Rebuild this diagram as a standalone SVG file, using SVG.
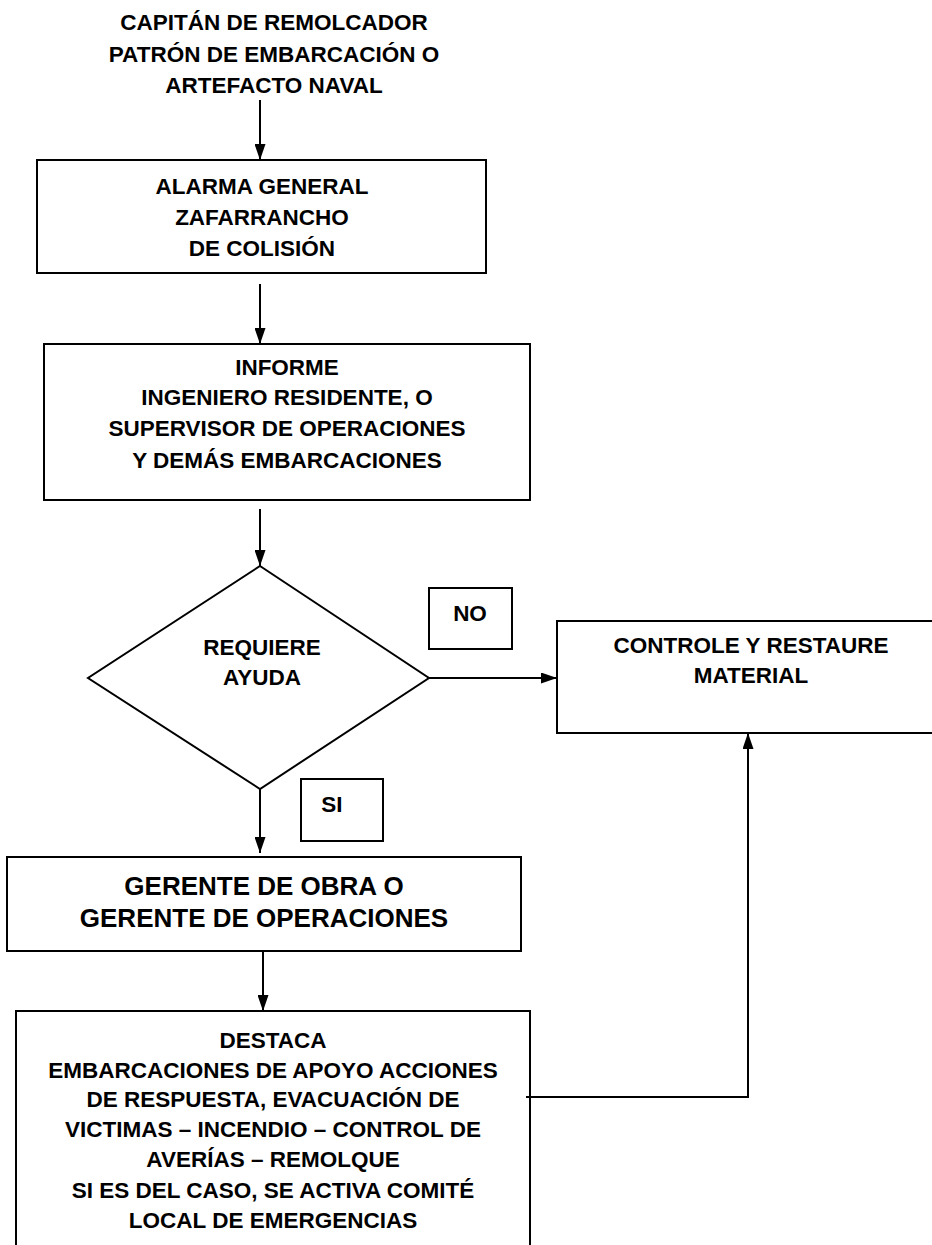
<svg xmlns="http://www.w3.org/2000/svg" width="932" height="1245" viewBox="0 0 932 1245">
<style>
  .t{font-family:"Liberation Sans",Arial,sans-serif;font-weight:bold;font-size:22.5px;fill:#000;text-anchor:middle}
  .big{font-size:26px}
  .box{fill:#fff;stroke:#000;stroke-width:2}
  .edge{fill:none;stroke:#000;stroke-width:2}
</style>
<defs>
  <marker id="ah2" viewBox="0 0 16 11" refX="16" refY="5.5" markerWidth="16" markerHeight="11" markerUnits="userSpaceOnUse" orient="auto">
    <path d="M0,0 L16,5.5 L0,11 z" fill="#000"/>
  </marker>
</defs>
<rect width="932" height="1245" fill="#fff"/>
<g id="start">
  <text class="t" x="274" y="30">CAPITÁN DE REMOLCADOR</text>
  <text class="t" x="274" y="62">PATRÓN DE EMBARCACIÓN O</text>
  <text class="t" x="274" y="93">ARTEFACTO NAVAL</text>
</g>
<g id="alarma">
  <rect class="box" x="37" y="160" width="449" height="113"/>
  <text class="t" x="262" y="194">ALARMA GENERAL</text>
  <text class="t" x="262" y="225">ZAFARRANCHO</text>
  <text class="t" x="262" y="256">DE COLISIÓN</text>
</g>
<g id="informe">
  <rect class="box" x="44" y="344" width="486" height="156"/>
  <text class="t" x="287" y="375">INFORME</text>
  <text class="t" x="287" y="405">INGENIERO RESIDENTE, O</text>
  <text class="t" x="287" y="436">SUPERVISOR DE OPERACIONES</text>
  <text class="t" x="287" y="468">Y DEMÁS EMBARCACIONES</text>
</g>
<g id="decision">
  <polygon class="box" points="260,566 429,678 260,789 88,678"/>
  <text class="t" x="262" y="655">REQUIERE</text>
  <text class="t" x="262" y="685">AYUDA</text>
</g>
<g id="label-no">
  <rect class="box" x="429" y="588" width="83" height="61"/>
  <text class="t" x="470" y="621">NO</text>
</g>
<g id="controle">
  <rect class="box" x="557" y="621" width="385" height="112"/>
  <text class="t" x="751" y="653">CONTROLE Y RESTAURE</text>
  <text class="t" x="751" y="683">MATERIAL</text>
</g>
<g id="label-si">
  <rect class="box" x="301" y="779" width="82" height="62"/>
  <text class="t" x="332" y="812">SI</text>
</g>
<g id="gerente">
  <rect class="box" x="7" y="857" width="514" height="94"/>
  <text class="t big" x="264" y="895">GERENTE DE OBRA O</text>
  <text class="t big" x="264" y="927">GERENTE DE OPERACIONES</text>
</g>
<g id="destaca">
  <rect class="box" x="16" y="1011" width="514" height="250"/>
  <text class="t" x="273" y="1048">DESTACA</text>
  <text class="t" x="273" y="1078">EMBARCACIONES DE APOYO ACCIONES</text>
  <text class="t" x="273" y="1107">DE RESPUESTA, EVACUACIÓN DE</text>
  <text class="t" x="273" y="1137">VICTIMAS – INCENDIO – CONTROL DE</text>
  <text class="t" x="273" y="1167">AVERÍAS – REMOLQUE</text>
  <text class="t" x="273" y="1198">SI ES DEL CASO, SE ACTIVA COMITÉ</text>
  <text class="t" x="273" y="1228">LOCAL DE EMERGENCIAS</text>
</g>
<g id="connectors">
  <line class="edge" x1="260" y1="100" x2="260" y2="160" marker-end="url(#ah2)"/>
  <line class="edge" x1="260" y1="284" x2="260" y2="344" marker-end="url(#ah2)"/>
  <line class="edge" x1="260" y1="509" x2="260" y2="566" marker-end="url(#ah2)"/>
  <line class="edge" x1="429" y1="678" x2="557" y2="678" marker-end="url(#ah2)"/>
  <line class="edge" x1="260" y1="789" x2="260" y2="853" marker-end="url(#ah2)"/>
  <line class="edge" x1="263" y1="951" x2="263" y2="1011" marker-end="url(#ah2)"/>
  <polyline class="edge" points="526,1097 748,1097 748,733" marker-end="url(#ah2)"/>
</g>
</svg>
